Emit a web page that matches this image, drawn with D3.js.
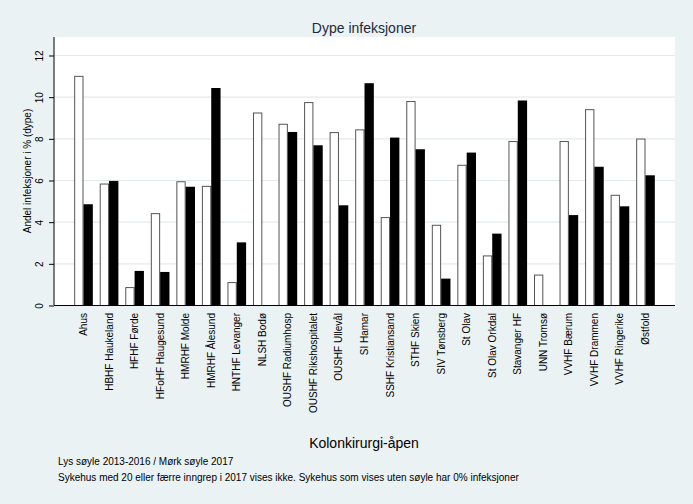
<!DOCTYPE html>
<html><head><meta charset="utf-8">
<script src="https://cdn.jsdelivr.net/npm/d3@7"></script>
<style>body{margin:0;background:#eaf2f3;}svg{display:block;font-family:"Liberation Sans",Arial,sans-serif;}</style>
</head><body>
<script>
const categories = ["Ahus","HBHF Haukeland","HFHF Førde","HFoHF Haugesund","HMRHF Molde","HMRHF Ålesund","HNTHF Levanger","NLSH Bodø","OUSHF Radiumhosp","OUSHF Rikshospitalet","OUSHF Ullevål","SI Hamar","SSHF Kristiansand","STHF Skien","SIV Tønsberg","St Olav","St Olav Orkdal","Stavanger HF","UNN Tromsø","VVHF Bærum","VVHF Drammen","VVHF Ringerike","Østfold"];
const light = [11.0,5.83,0.86,4.41,5.94,5.72,1.10,9.24,8.70,9.74,8.30,8.43,4.22,9.79,3.85,6.73,2.38,7.87,1.46,7.87,9.40,5.29,7.99];
const dark = [4.86,5.98,1.66,1.61,5.70,10.44,3.03,0,8.33,7.69,4.81,10.67,8.06,7.50,1.29,7.34,3.45,9.84,0,4.34,6.66,4.76,6.25];
const yTicks = [0,2,4,6,8,10,12];
const series = ["light","dark"];

const W=693,H=504;
const L=54,R=675,T=37,B=305;
const svg=d3.select("body").append("svg").attr("width",W).attr("height",H);
svg.append("rect").attr("width",W).attr("height",H).attr("fill","#eaf2f3");
svg.append("rect").attr("x",L).attr("y",T).attr("width",R-L).attr("height",B-T).attr("fill","#fff");

const y=d3.scaleLinear().domain([0,12]).range([305.5,55.5]);
const x=d3.scaleBand().domain(categories).range([L,R]).paddingInner(0.27).paddingOuter(0.79);
const xs=d3.scaleBand().domain(series).range([0,x.bandwidth()]);

// grid
svg.append("g").selectAll("line").data(yTicks.filter(d=>d>0)).join("line")
 .attr("x1",L).attr("x2",R).attr("y1",d=>y(d)).attr("y2",d=>y(d))
 .attr("stroke","#e3eaec").attr("stroke-width",1.2);

const data=categories.map((c,i)=>({c,light:light[i],dark:dark[i]}));
const g=svg.append("g");
data.forEach(d=>{
  if(d.light>0) g.append("rect").attr("x",x(d.c)+xs("light")+0.5).attr("y",y(d.light)).attr("width",xs.bandwidth()-1).attr("height",y(0)-y(d.light))
    .attr("fill","#fff").attr("stroke","#555").attr("stroke-width",1);
  if(d.dark>0) g.append("rect").attr("x",x(d.c)+xs("dark")).attr("y",y(d.dark)).attr("width",xs.bandwidth()).attr("height",y(0)-y(d.dark))
    .attr("fill","#000");
});

// y axis
const ya=svg.append("g").attr("transform",`translate(${L},0)`).call(d3.axisLeft(y).tickValues(yTicks).tickSize(5).tickFormat(d3.format("d")));
ya.select(".domain").attr("d",`M0,${T}V${B}`).attr("stroke","#000");
ya.selectAll(".tick line").attr("stroke","#000");
ya.selectAll(".tick text").attr("transform","rotate(-90)").attr("x",0).attr("y",-11).attr("dy","0").attr("text-anchor","middle").attr("font-size",10).attr("fill","#000").attr("font-family","Liberation Sans, Arial, sans-serif");

// x axis
const xa=svg.append("g").attr("transform",`translate(0,${B})`).call(d3.axisBottom(x).tickSize(0));
xa.select(".domain").attr("d",`M${L},0.5H${R}`).attr("stroke","#000");
xa.selectAll(".tick text").attr("transform","rotate(-90)").attr("x",-8).attr("y",0).attr("dy","0.35em").attr("text-anchor","end").attr("font-size",10).attr("fill","#000").attr("font-family","Liberation Sans, Arial, sans-serif");

svg.append("text").attr("x",364).attr("y",33).attr("text-anchor","middle").attr("font-size",14).attr("fill","#1e2a3a").text("Dype infeksjoner");
svg.append("text").attr("transform","translate(31,171) rotate(-90)").attr("text-anchor","middle").attr("font-size",10).attr("fill","#000").text("Andel infeksjoner i % (dype)");
svg.append("text").attr("x",364).attr("y",448).attr("text-anchor","middle").attr("font-size",14).attr("fill","#000").text("Kolonkirurgi-åpen");
svg.append("text").attr("x",58).attr("y",465).attr("font-size",10).attr("fill","#000").text("Lys søyle 2013-2016 / Mørk søyle 2017");
svg.append("text").attr("x",58).attr("y",481).attr("font-size",10).attr("fill","#000").text("Sykehus med 20 eller færre inngrep i 2017 vises ikke. Sykehus som vises uten søyle har 0% infeksjoner");
</script>
</body></html>
